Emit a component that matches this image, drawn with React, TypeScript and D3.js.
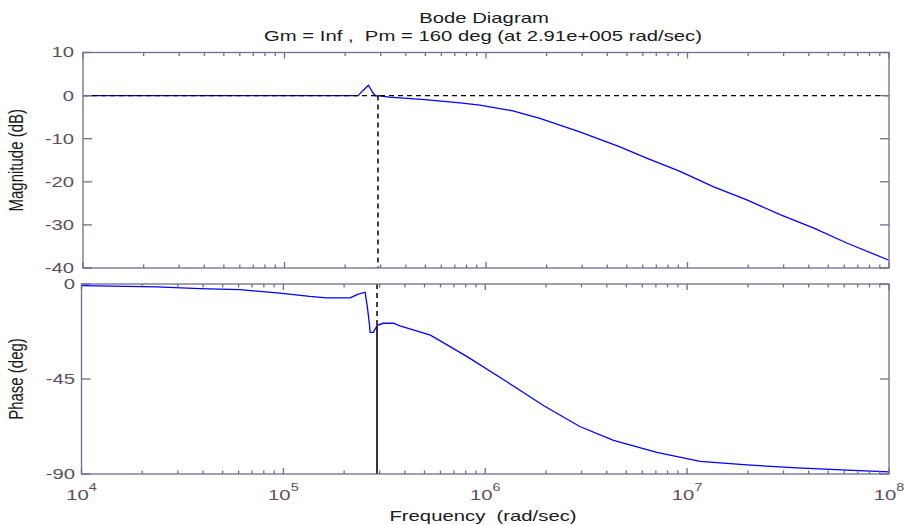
import React from "react";
import * as d3 from "d3";

// ---- Data ----
const magFreq = [1e4, 1e5, 2.32e5, 2.45e5, 2.61e5, 2.75e5, 2.84e5, 2.91e5, 3.31e5, 3.74e5, 4.98e5, 7.43e5, 9.33e5, 1.17e6, 1.36e6, 1.85e6, 2.92e6, 4.62e6, 6.27e6, 9.18e6, 1.34e7, 1.97e7, 2.88e7, 4.21e7, 6.17e7, 1e8];
const magDb = [0, 0, 0, 1.2, 2.4, 0.6, -0.1, 0, -0.35, -0.55, -0.93, -1.7, -2.2, -3.0, -3.55, -5.3, -8.4, -11.9, -14.5, -17.6, -21.1, -24.2, -27.6, -30.7, -34.2, -38.2];

const phFreq = [1e4, 2.36e4, 3.86e4, 6.1e4, 9.6e4, 1.35e5, 1.64e5, 2.14e5, 2.35e5, 2.54e5, 2.61e5, 2.67e5, 2.69e5, 2.79e5, 2.92e5, 3.13e5, 3.51e5, 3.78e5, 5.35e5, 8.13e5, 1.28e6, 1.95e6, 2.94e6, 4.32e6, 7.08e6, 1.16e7, 1.98e7, 3.51e7, 6.21e7, 1e8];
const phDeg = [-0.8, -1.4, -2.2, -2.7, -4.3, -5.9, -6.6, -6.6, -4.8, -3.9, -11.3, -19.3, -22.9, -22.9, -19.6, -18.6, -18.6, -19.8, -24.2, -34.4, -46.3, -57.7, -67.5, -74.1, -79.8, -84.0, -85.7, -87.1, -88.2, -89.0];

const magTicks = [10, 0, -10, -20, -30, -40];
const phTicks = [0, -45, -90];
const decadeExps = [4, 5, 6, 7, 8];

const crossFreq = 2.91e5;
const crossPhase = -20;

const titleLine1 = "Bode Diagram";
const titleLine2 = "Gm = Inf ,  Pm = 160 deg (at 2.91e+005 rad/sec)";
const xLabel = "Frequency  (rad/sec)";
const magLabel = "Magnitude (dB)";
const phLabel = "Phase (deg)";

// ---- Layout ----
const W = 904;
const H = 525;
const axisColor = "#6e6e8e";
const tickTextColor = "#5e4e5c";
const labelColor = "#1a1a1a";
const font = "'Liberation Sans', Arial, sans-serif";
const SX = 1.45; // horizontal stretch of the reference's lettering

const xTop = d3.scaleLog().domain([1e4, 1e8]).range([83, 889]);
const xBot = d3.scaleLog().domain([1e4, 1e8]).range([81.5, 889]);
const yMag = d3.scaleLinear().domain([-40, 10]).range([268, 52.5]);
const yPh = d3.scaleLinear().domain([-90, 0]).range([474, 284]);

const minorFreqs: number[] = [];
for (let e = 4; e < 8; e++) {
  for (let m = 2; m <= 9; m++) minorFreqs.push(m * Math.pow(10, e));
}

function SText({ x, y, anchor = "start", size = 14, fill = labelColor, dy, children }: any) {
  return (
    <text
      transform={`translate(${x},${y}) scale(${SX},1)`}
      textAnchor={anchor}
      fontSize={size}
      fill={fill}
      dy={dy}
      style={{ whiteSpace: "pre" }}
    >
      {children}
    </text>
  );
}

function Frame({ x, y, ticks }: { x: d3.ScaleLogarithmic<number, number>; y: d3.ScaleLinear<number, number>; ticks: number[] }) {
  const [x0, x1] = x.range();
  const [yb, yt] = y.range();
  const els: React.ReactNode[] = [];
  decadeExps.forEach((e) => {
    const px = x(Math.pow(10, e));
    els.push(<line key={"tb" + e} x1={px} x2={px} y1={yb} y2={yb - 6} />);
    els.push(<line key={"tt" + e} x1={px} x2={px} y1={yt} y2={yt + 6} />);
  });
  minorFreqs.forEach((f, i) => {
    const px = x(f);
    els.push(<line key={"mb" + i} x1={px} x2={px} y1={yb} y2={yb - 3.5} />);
    els.push(<line key={"mt" + i} x1={px} x2={px} y1={yt} y2={yt + 3.5} />);
  });
  ticks.forEach((t) => {
    const py = y(t);
    els.push(<line key={"yl" + t} x1={x0} x2={x0 + 9} y1={py} y2={py} />);
    els.push(<line key={"yr" + t} x1={x1} x2={x1 - 9} y1={py} y2={py} />);
  });
  return (
    <g stroke={axisColor} strokeWidth={1.3} fill="none">
      <rect x={x0} y={yt} width={x1 - x0} height={yb - yt} />
      {els}
    </g>
  );
}

export default function App() {
  const magLine = d3
    .line<number>()
    .x((_, i) => xTop(magFreq[i]))
    .y((d) => yMag(d));
  const phLine = d3
    .line<number>()
    .x((_, i) => xBot(phFreq[i]))
    .y((d) => yPh(d));

  const cxTop = xTop(crossFreq);
  const cxBot = xBot(crossFreq);

  return (
    <svg
      width={W}
      height={H}
      style={{ position: "absolute", left: 0, top: 0, background: "#fff" }}
      fontFamily={font}
    >
      <rect width={W} height={H} fill="#fff" />
      {/* Titles */}
      <SText x={484} y={23} anchor="middle">{titleLine1}</SText>
      <SText x={483} y={41} anchor="middle">{titleLine2}</SText>

      {/* Magnitude axes */}
      <g>
        <path d={magLine(magDb) || ""} fill="none" stroke="#0000ff" strokeWidth={1.3} />
        <line x1={xTop.range()[0]} x2={xTop.range()[1]} y1={yMag(0)} y2={yMag(0)} stroke="#000" strokeWidth={1.3} strokeDasharray="5,4" />
        <line x1={cxTop} x2={cxTop} y1={yMag(0)} y2={yMag(-40)} stroke="#000" strokeWidth={1.5} strokeDasharray="5,4" />
        <Frame x={xTop} y={yMag} ticks={magTicks} />
        {magTicks.map((t) => (
          <SText key={t} x={74} y={yMag(t)} dy="0.35em" anchor="end" fill={tickTextColor}>
            {t}
          </SText>
        ))}
        <text
          transform={`translate(23,${(yMag(10) + yMag(-40)) / 2}) rotate(-90) scale(1,1.3)`}
          textAnchor="middle"
          fontSize={15}
          fill={labelColor}
        >
          {magLabel}
        </text>
      </g>

      {/* Phase axes */}
      <g>
        <path d={phLine(phDeg) || ""} fill="none" stroke="#0000ff" strokeWidth={1.3} />
        <line x1={cxBot} x2={cxBot} y1={yPh(0)} y2={yPh(crossPhase)} stroke="#000" strokeWidth={1.5} strokeDasharray="5,4" />
        <line x1={cxBot} x2={cxBot} y1={yPh(crossPhase)} y2={yPh(-90)} stroke="#000" strokeWidth={1.6} />
        <Frame x={xBot} y={yPh} ticks={phTicks} />
        {phTicks.map((t) => (
          <SText key={t} x={75} y={yPh(t)} dy="0.35em" anchor="end" fill={tickTextColor}>
            {t}
          </SText>
        ))}
        <text
          transform={`translate(23,${(yPh(0) + yPh(-90)) / 2}) rotate(-90) scale(1,1.3)`}
          textAnchor="middle"
          fontSize={15}
          fill={labelColor}
        >
          {phLabel}
        </text>
        {decadeExps.map((e) => (
          <SText key={e} x={xBot(Math.pow(10, e))} y={500} anchor="middle" fill={tickTextColor}>
            10
            <tspan dy={-9} fontSize={10}>
              {e}
            </tspan>
          </SText>
        ))}
        <SText x={483} y={521} anchor="middle">{xLabel}</SText>
      </g>
    </svg>
  );
}
